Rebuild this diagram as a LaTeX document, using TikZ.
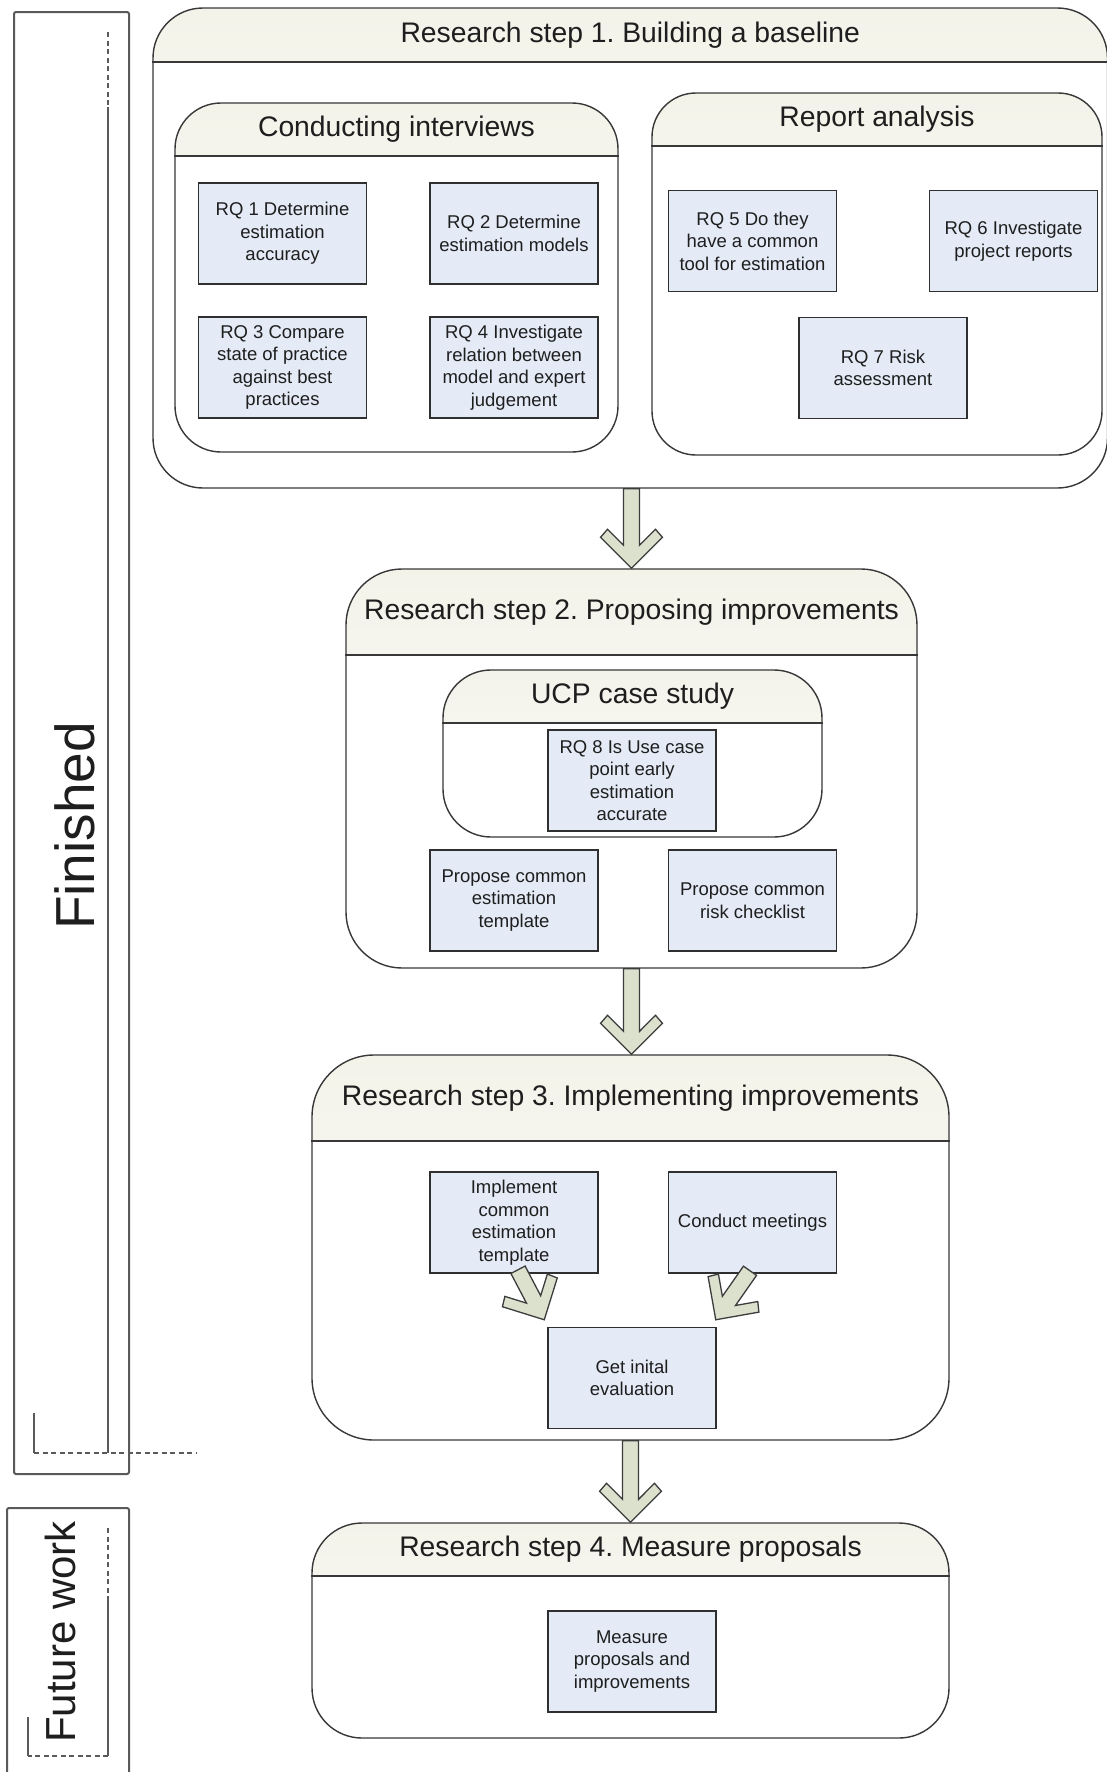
\documentclass[tikz,border=0pt]{standalone}
\usepackage{fontspec}
\setmainfont{Liberation Sans}
\usetikzlibrary{calc}
\frenchspacing

\definecolor{lanecol}{HTML}{383838}
\definecolor{boxcol}{HTML}{2F2F2F}
\definecolor{boxfill}{HTML}{E4EAF6}
\definecolor{hdtop}{HTML}{F3F3EA}
\definecolor{hdbot}{HTML}{FDFDFB}
\definecolor{arrowfill}{HTML}{DCE1CE}
\definecolor{arrowline}{HTML}{3C3C3C}
\definecolor{sidecol}{HTML}{5A5A5A}
\definecolor{txtcol}{HTML}{1E1E1E}

\tikzset{
  lanebox/.style={draw=lanecol, line width=1.4pt, fill=white, inner sep=0pt},
  laneline/.style={draw=lanecol, line width=1.4pt},
  lanetitle/.style={font=\fontsize{28.3}{34}\selectfont, text=txtcol, inner sep=0pt},
  rq/.style={draw=boxcol, line width=1.5pt, fill=boxfill, minimum width=168pt,
    minimum height=101pt, inner sep=2pt, align=center,
    font=\fontsize{18.5}{22.5}\selectfont, text=txtcol},
  fatarrow/.style={draw=arrowline, fill=arrowfill, line width=1.3pt, line join=miter},
  sidebox/.style={draw=sidecol, line width=2pt, rounded corners=2pt, inner sep=0pt},
  bracketsolid/.style={draw=sidecol, line width=1.3pt},
  bracketdash/.style={draw=sidecol, line width=1.3pt, dash pattern=on 5pt off 3.5pt},
  sidetext/.style={rotate=90, text=txtcol, inner sep=0pt},
}

% swimlane container: name, x1, y1, x2, y2, header bottom y, corner radius, title
\newcommand\lane[8]{%
  \node[lanebox, rounded corners=#7pt,
        minimum width={(#4-#2)*1pt}, minimum height={(#5-#3)*1pt},
        path picture={\shade[sharp corners, top color=hdtop, bottom color=hdbot]
          (path picture bounding box.north west) rectangle
          ([yshift={-(#6-#3)*1pt}]path picture bounding box.north east);}]
    (#1) at ({(#2+#4)/2},{(#3+#5)/2}) {};
  \draw[laneline] (#1.west |- 0,#6) -- (#1.east |- 0,#6);
  \node[lanetitle] (#1-title) at ({(#2+#4)/2},{(#3+#6)/2}) {#8};
}

% block arrow with an open chevron head: from start #1 to tip #2
\newcommand\chevron[2]{%
  \draw[fatarrow]
    ($(#1)!8pt!-90:(#2)$) -- ($(#2)!24.35pt!19.2:(#1)$)
    -- ($(#2)!45.8pt!31.6:(#1)$) -- ($(#2)!43.8pt!45:(#1)$)
    -- (#2)
    -- ($(#2)!43.8pt!-45:(#1)$) -- ($(#2)!45.8pt!-31.6:(#1)$)
    -- ($(#2)!24.35pt!-19.2:(#1)$) -- ($(#1)!8pt!90:(#2)$) -- cycle;
}

\begin{document}
\begin{tikzpicture}[x=1pt, y=-1pt]
\useasboundingbox (0,0) rectangle (1107,1772);
\clip (0,0) rectangle (1107,1772);
\fill[white] (0,0) rectangle (1107,1772);

% ---------- status bars on the left ----------
\node[sidebox, minimum width=115pt, minimum height=1462pt] (fin) at (71.5,743) {};
\draw[bracketdash] (108,32) -- (108,107);
\draw[bracketsolid] (108,107) -- (108,1453);
\draw[bracketdash] (34,1453) -- (197,1453);
\draw[bracketsolid] (34,1413) -- (34,1453);
\node[sidetext, font=\fontsize{55}{66}\selectfont] (fin-label) at (75,826) {Finished};

\node[sidebox, minimum width=122pt, minimum height=282pt] (fw) at (68,1649) {};
\draw[bracketdash] (108,1528) -- (108,1600);
\draw[bracketsolid] (108,1600) -- (108,1756);
\draw[bracketdash] (108,1756) -- (28,1756);
\draw[bracketsolid] (28,1717) -- (28,1756);
\node[sidetext, font=\fontsize{42}{50}\selectfont] (fw-label) at (60,1632) {Future work};

% ---------- research step 1 ----------
\lane{s1}{153}{8}{1107.5}{488}{62}{50}{Research step 1. Building a baseline}
\lane{ci}{175}{103}{618}{452}{156}{46}{Conducting interviews}
\lane{ra}{652}{93}{1102}{455}{146}{44}{Report analysis}

\node[rq] (rq1) at (282.5,233.5) {RQ 1 Determine\\estimation\\accuracy};
\node[rq] (rq2) at (514,233.5) {RQ 2 Determine\\estimation models};
\node[rq] (rq3) at (282.5,367.5) {RQ 3 Compare\\state of practice\\against best\\practices};
\node[rq] (rq4) at (514,367.5) {RQ 4 Investigate\\relation between\\model and expert\\judgement};
\node[rq] (rq5) at (752.5,241) {RQ 5 Do they\\have a common\\tool for estimation};
\node[rq] (rq6) at (1013.5,241) {RQ 6 Investigate\\project reports};
\node[rq] (rq7) at (883,368) {RQ 7 Risk\\assessment};

% ---------- research step 2 ----------
\lane{s2}{346}{569}{917}{968}{655}{56}{Research step 2. Proposing improvements}
\lane{ucp}{443}{670}{822}{837}{723}{48}{UCP case study}
\node[rq] (rq8) at (632,780.5) {RQ 8 Is Use case\\point early\\estimation\\accurate};
\node[rq] (pest) at (514,900.5) {Propose common\\estimation\\template};
\node[rq] (prisk) at (752.5,900.5) {Propose common\\risk checklist};

% ---------- research step 3 ----------
\lane{s3}{312}{1055}{949}{1440}{1141}{62}{Research step 3. Implementing improvements}
\node[rq] (impl) at (514,1222.5) {Implement\\common\\estimation\\template};
\node[rq] (meet) at (752.5,1222.5) {Conduct meetings};
\node[rq] (eval) at (632,1378) {Get inital\\evaluation};

% ---------- research step 4 ----------
\lane{s4}{312}{1523}{949}{1738}{1576}{50}{Research step 4. Measure proposals}
\node[rq] (meas) at (632,1661.5) {Measure\\proposals and\\improvements};

% ---------- connectors ----------
\coordinate (a1s) at (s2.north |- s1.south);
\chevron{a1s}{s2.north}
\coordinate (a2t) at (s2.south |- s3.north);
\chevron{s2.south}{a2t}
\chevron{s3.south}{s4.north}

\coordinate (b1s) at ([xshift=4pt, yshift=4pt]impl.south);
\coordinate (b1t) at ([xshift=-3pt, yshift=7pt]eval.north west);
\chevron{b1s}{b1t}
\coordinate (b2s) at ([xshift=-2.5pt, yshift=3pt]meet.south);
\coordinate (b2t) at ([xshift=-1pt, yshift=7pt]eval.north east);
\chevron{b2s}{b2t}
\end{tikzpicture}
\end{document}
